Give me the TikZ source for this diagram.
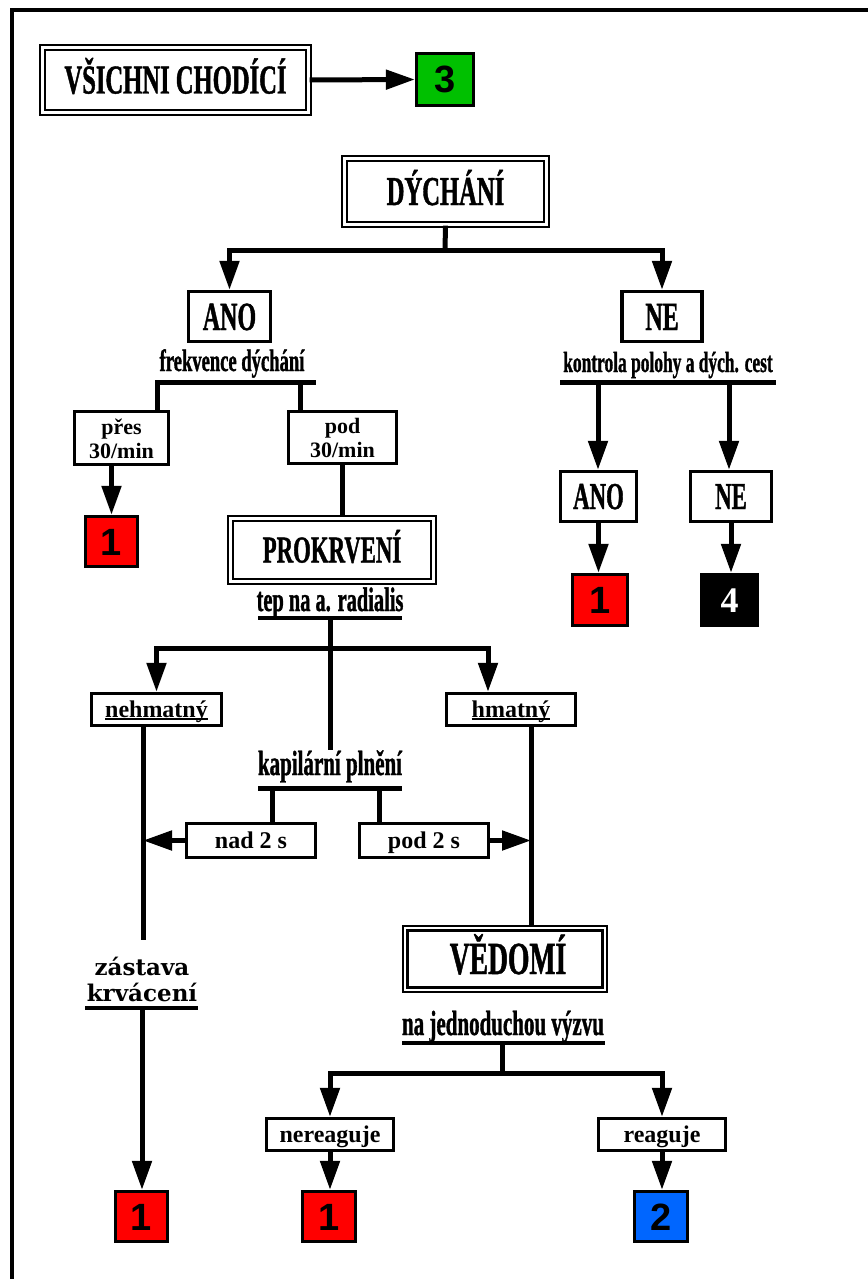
\documentclass[tikz,border=0pt]{standalone}
\usepackage{fontspec}
\setmainfont{Liberation Serif}
\newfontfamily\condf{Liberation Serif}[FakeStretch=0.6,FakeBold=1]
\newfontfamily\slabf{DejaVu Serif}
\newfontfamily\numf{Liberation Sans}
\usetikzlibrary{arrows.meta}
\newcommand\fs[1]{\fontsize{#1}{#1}\selectfont}
\newcommand\myul[1]{\setbox0\hbox{#1}\rlap{\rule[-2.5pt]{\wd0}{2.2pt}}\box0}
\definecolor{grn}{HTML}{00C000}
\definecolor{blu}{HTML}{0066FF}
\begin{document}
\begin{tikzpicture}[x=1pt,y=-1pt,
  box/.style={draw, line width=3.3pt, fill=white, inner sep=0pt},
  dbl/.style={draw, double, double distance=2.4pt, line width=2.4pt, fill=white, inner sep=0pt},
  title/.style={dbl, font=\condf\bfseries\fs{41}, text height=27pt, text depth=0pt},
  bigbox/.style={box, font=\condf\bfseries\fs{40}, text height=27pt, text depth=0pt},
  small/.style={box, font=\bfseries\fs{24}, text height=16pt, text depth=0pt},
  twoline/.style={box, align=center, font=\bfseries\fontsize{22}{24}\selectfont, text height=40pt, text depth=0pt},
  lbl/.style={inner sep=0pt, anchor=base, font=\condf\bfseries\fs{33}},
  num/.style={draw, line width=3.3pt, inner sep=0pt, font=\numf\bfseries\fs{38}, text height=27pt, text depth=0pt},
  con/.style={line width=5pt},
  arr/.style={con, -{Triangle[length=29pt,width=19pt]}},
  bar/.style={line width=5pt},
  uline/.style={line width=3.5pt}]
\useasboundingbox (0,0) rectangle (867,1279);
\fill[white] (0,0) rectangle (867,1279);
% frame
\draw[line width=4.5pt] (12,1290) -- (12,10) -- (880,10);

% top row
\node[title, minimum width=266pt, minimum height=65pt] (vsichni) at (175.5,80) {VŠICHNI CHODÍCÍ};
\node[num, fill=grn, minimum width=57pt, minimum height=52pt] (g3) at (445,79.5) {3};
\draw[arr] (vsichni.east) -- (g3.west);

% DYCHANI
\node[title, minimum width=202pt, minimum height=66pt] (dych) at (445.5,191.5) {DÝCHÁNÍ};
\node[bigbox, minimum width=82pt, minimum height=50pt] (ano1) at (229.5,316.5) {ANO};
\node[bigbox, minimum width=80pt, minimum height=50pt] (ne1) at (662,316.5) {NE};
\coordinate (b1) at (445,250);
\draw[con] (dych.south) -- (b1);
\draw[arr] (b1) -| (ano1.north);
\draw[arr] (b1) -| (ne1.north);

% left branch: frekvence
\node[lbl, font=\condf\bfseries\fs{31}] (frek) at (232,371) {frekvence dýchání};
\coordinate (fl) at (155,382);
\coordinate (fr) at (316,382);
\draw[bar] (fl) -- (fr);
\coordinate (f1) at (157,382);
\coordinate (f2) at (300,382);
\node[twoline, minimum width=94pt, minimum height=53pt] (pres) at (121.5,438) {přes\\30/min};
\node[twoline, minimum width=108pt, minimum height=52pt] (pod30) at (342.5,437.5) {pod\\30/min};
\draw[con] (f1) -- (f1 |- pres.north);
\draw[con] (f2) -- (f2 |- pod30.north);
\node[num, fill=red, minimum width=52pt, minimum height=50pt] (r1) at (111.5,541.5) {1};
\draw[arr] (r1.north |- pres.south) -- (r1.north);

% PROKRVENI
\node[title, font=\condf\bfseries\fs{38}, text height=25pt, minimum width=203pt, minimum height=63pt] (prok) at (332,550) {PROKRVENÍ};
\draw[con] (pod30.south) -- (pod30.south |- prok.north);
\node[lbl, font=\condf\bfseries\fs{34}] (tep) at (330,611) {tep na a. radialis};
\draw[uline] (258,618) -- (402,618);
\coordinate (t0) at (330,618);
\coordinate (b2) at (330,648);
\coordinate (h1) at (488,648);
\node[small, minimum width=130pt, minimum height=32pt] (nehm) at (156.5,709.5) {\myul{nehmatný}};
\node[small, minimum width=129pt, minimum height=32pt] (hmat) at (511,709.5) {\myul{hmatný}};
\node[lbl, font=\condf\bfseries\fs{35}] (kap) at (330,775) {kapilární plnění};
\draw[con] (t0) -- (t0 |- kap.north);
\draw[arr] (b2) -| (nehm.north);
\draw[arr] (b2) -- (h1) -- (h1 |- hmat.north);

% kapilarni
\draw[bar] (258,788) -- (402,788);
\coordinate (k1) at (272,788);
\coordinate (k2) at (379,788);
\node[small, minimum width=129pt, minimum height=34pt] (nad) at (251,840.5) {nad 2 s};
\node[small, minimum width=129pt, minimum height=34pt] (pod2) at (424,840.5) {pod 2 s};
\draw[con] (k1) -- (k1 |- nad.north);
\draw[con] (k2) -- (k2 |- pod2.north);

% left vertical
\coordinate (L) at (143,940);
\draw[con] (L |- nehm.south) -- (L);
\draw[arr] (nad.west) -- (nad.west -| L);
\node[inner sep=0pt, anchor=base, font=\slabf\bfseries\fs{23}] (zast) at (142,975) {zástava};
\node[inner sep=0pt, anchor=base, font=\slabf\bfseries\fs{23}] (krv) at (142,1001) {krvácení};
\draw[uline, line width=4pt] (85,1008) -- (198,1008);
\node[num, fill=red, minimum width=52pt, minimum height=50pt] (r3) at (141.5,1216.5) {1};
\coordinate (L2) at (142,1010);
\draw[arr] (L2) -- (L2 |- r3.north);

% VEDOMI
\node[title, font=\condf\bfseries\fs{46}, text height=30pt, minimum width=199.5pt, minimum height=61.5pt] (ved) at (505,959) {\hspace{6pt}VĚDOMÍ};
\coordinate (R) at (531,925);
\draw[con] (R |- hmat.south) -- (R |- ved.north);
\draw[arr] (pod2.east) -- (pod2.east -| R);
\node[lbl, font=\condf\bfseries\fs{35}] (vyz) at (503,1035) {na jednoduchou výzvu};
\draw[uline, line width=4pt] (402,1043) -- (605,1043);
\coordinate (v0) at (502,1043);
\coordinate (v1) at (502,1073);
\node[small, minimum width=127pt, minimum height=32pt] (nereag) at (330,1134.5) {nereaguje};
\node[small, minimum width=127pt, minimum height=32pt] (reag) at (662,1134.5) {reaguje};
\draw[con] (v0) -- (v1);
\draw[arr] (v1) -| (nereag.north);
\draw[arr] (v1) -| (reag.north);
\node[num, fill=red, minimum width=53pt, minimum height=50pt] (r4) at (329,1216.5) {1};
\node[num, fill=blu, minimum width=53pt, minimum height=50pt] (b2n) at (661,1216.5) {2};
\draw[arr] (nereag.south) -- (nereag.south |- r4.north);
\draw[arr] (reag.south) -- (reag.south |- b2n.north);

% right branch
\node[lbl, font=\condf\bfseries\fs{29}] (kont) at (668,372) {kontrola polohy a dých. cest};
\draw[bar] (560,382) -- (776,382);
\coordinate (n1) at (598,382);
\coordinate (n2) at (729,382);
\node[bigbox, font=\condf\bfseries\fs{38}, text height=25pt, minimum width=76pt, minimum height=50pt] (ano2) at (598.5,496.5) {ANO};
\node[bigbox, font=\condf\bfseries\fs{38}, text height=25pt, minimum width=81pt, minimum height=50pt] (ne2) at (731,496.5) {NE};
\draw[arr] (n1) -- (n1 |- ano2.north);
\draw[arr] (n2) -- (n2 |- ne2.north);
\node[num, fill=red, minimum width=55pt, minimum height=51pt] (r2) at (600,600) {1};
\node[num, fill=black, text=white, font=\bfseries\fs{36}, text height=25pt, minimum width=56pt, minimum height=51pt] (k4) at (729.5,600) {4};
\draw[arr] (ano2.south) -- (ano2.south |- r2.north);
\draw[arr] (ne2.south) -- (ne2.south |- k4.north);
\end{tikzpicture}
\end{document}
